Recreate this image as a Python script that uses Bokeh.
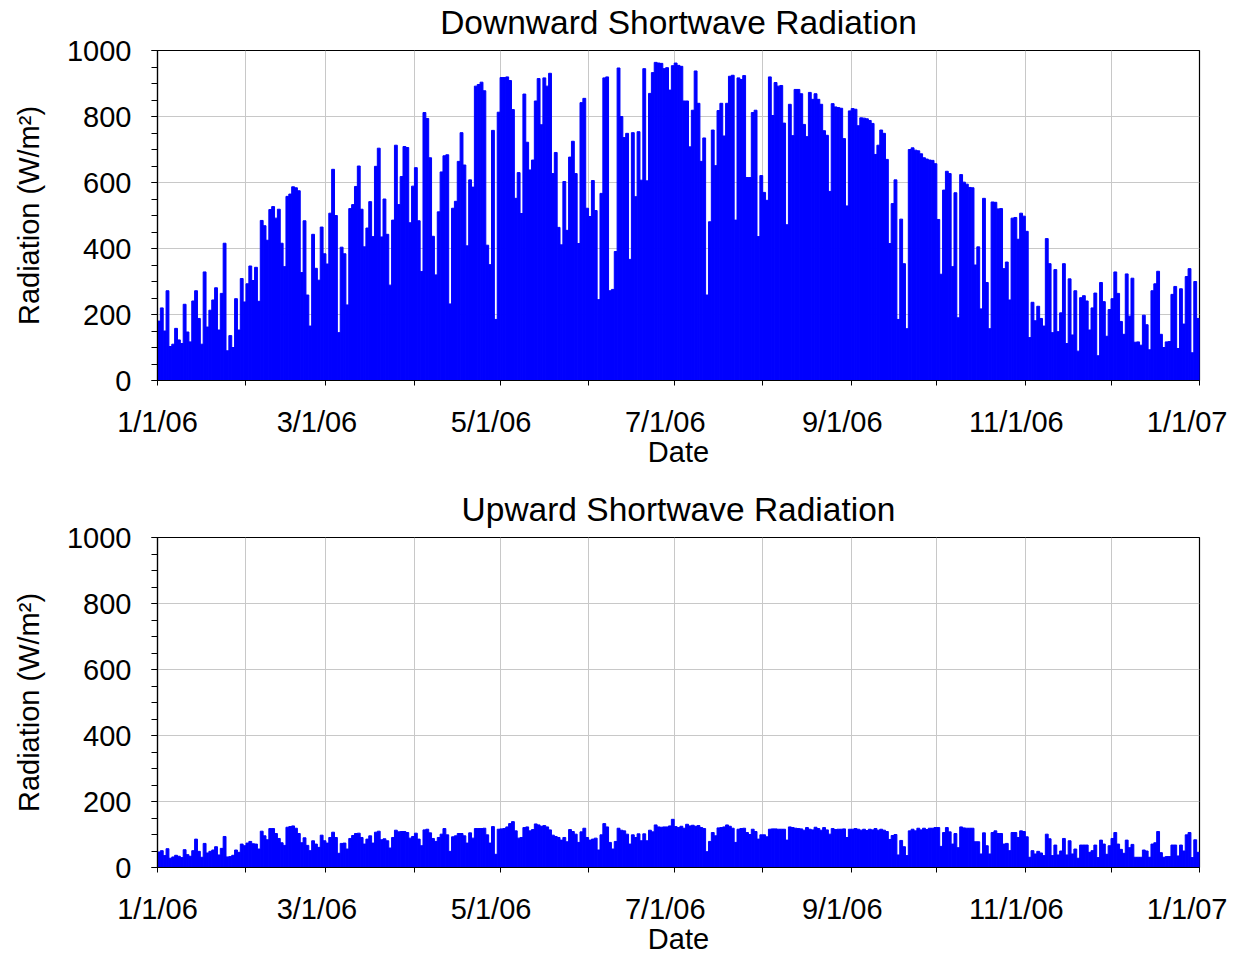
from bokeh.plotting import figure
from bokeh.layouts import column
from bokeh.models import FixedTicker, SingleIntervalTicker, Range1d, Title, LinearAxis
from bokeh.embed import file_html
from bokeh.resources import INLINE

# Daily peak downward shortwave radiation (W/m^2), 2006, day 0 = Jan 1
down_peak = [
    180, 220, 150, 272, 103, 110, 158, 123, 112, 231,
    147, 117, 241, 272, 188, 110, 329, 162, 213, 244,
    281, 153, 264, 416, 90, 136, 100, 248, 153, 309,
    238, 293, 347, 303, 343, 240, 485, 469, 425, 518,
    527, 492, 519, 416, 345, 558, 565, 587, 584, 575,
    327, 484, 259, 165, 443, 340, 304, 465, 384, 353,
    507, 640, 500, 145, 404, 384, 229, 521, 533, 588,
    650, 519, 405, 462, 542, 436, 649, 704, 435, 550,
    443, 289, 486, 713, 533, 618, 709, 706, 478, 589,
    645, 484, 330, 812, 794, 675, 437, 320, 511, 632,
    681, 684, 232, 522, 543, 664, 751, 653, 408, 608,
    586, 892, 897, 904, 878, 410, 351, 758, 185, 813,
    918, 918, 920, 909, 821, 552, 630, 506, 868, 722,
    638, 668, 847, 915, 775, 917, 892, 931, 627, 691,
    464, 411, 603, 455, 677, 725, 627, 415, 842, 855,
    522, 497, 606, 515, 245, 567, 917, 920, 272, 276,
    391, 947, 800, 736, 749, 367, 751, 557, 754, 607,
    945, 605, 870, 933, 964, 962, 961, 945, 948, 880,
    954, 962, 955, 952, 847, 847, 708, 819, 938, 840,
    664, 735, 259, 481, 759, 651, 818, 840, 741, 840,
    922, 925, 486, 917, 912, 924, 615, 615, 812, 819,
    436, 621, 570, 546, 920, 803, 903, 892, 894, 780,
    472, 837, 742, 882, 882, 869, 776, 739, 873, 852,
    869, 852, 837, 757, 743, 573, 839, 829, 827, 825,
    733, 529, 817, 824, 822, 772, 796, 795, 793, 788,
    779, 685, 713, 759, 749, 670, 415, 536, 608, 185,
    489, 354, 157, 700, 705, 698, 696, 687, 675, 671,
    668, 667, 657, 488, 322, 577, 634, 627, 345, 569,
    190, 624, 601, 595, 585, 584, 350, 405, 217, 552,
    297, 157, 541, 540, 520, 521, 339, 359, 244, 492,
    494, 428, 507, 498, 452, 130, 237, 181, 225, 188,
    165, 430, 354, 145, 336, 148, 205, 354, 112, 308,
    138, 272, 89, 251, 257, 241, 153, 220, 265, 75,
    297, 239, 134, 215, 248, 329, 264, 179, 140, 323,
    195, 310, 116, 117, 107, 198, 169, 93, 272, 293,
    331, 140, 100, 117, 118, 261, 285, 97, 278, 171,
    315, 339, 84, 300, 188,
]

# Daily peak upward shortwave radiation (W/m^2)
up_peak = [
    47, 51, 36, 57, 28, 32, 37, 34, 30, 54,
    39, 34, 51, 86, 49, 31, 73, 44, 49, 53,
    63, 38, 58, 94, 32, 33, 37, 53, 46, 71,
    66, 74, 79, 72, 71, 56, 110, 96, 84, 118,
    118, 103, 88, 75, 67, 122, 124, 126, 119, 103,
    75, 90, 67, 51, 81, 71, 61, 98, 81, 74,
    91, 107, 91, 43, 73, 74, 56, 88, 97, 103,
    104, 91, 71, 86, 96, 74, 107, 110, 84, 87,
    81, 59, 91, 113, 108, 109, 109, 106, 89, 94,
    104, 86, 66, 114, 116, 105, 88, 79, 91, 101,
    118, 99, 49, 93, 96, 103, 103, 96, 74, 105,
    89, 118, 118, 118, 119, 99, 74, 124, 40, 116,
    117, 118, 123, 133, 139, 111, 89, 91, 121, 123,
    111, 115, 132, 129, 125, 127, 123, 114, 98, 94,
    91, 83, 91, 78, 115, 109, 101, 76, 108, 119,
    91, 83, 86, 89, 53, 99, 133, 123, 76, 56,
    79, 119, 113, 111, 101, 71, 99, 91, 102, 81,
    102, 81, 113, 108, 129, 123, 122, 123, 123, 126,
    146, 124, 121, 125, 119, 131, 126, 128, 125, 127,
    121, 118, 48, 79, 106, 96, 120, 121, 123, 129,
    125, 119, 76, 116, 118, 119, 106, 100, 116, 109,
    86, 99, 99, 93, 116, 117, 117, 116, 116, 116,
    83, 123, 121, 119, 118, 117, 113, 121, 116, 114,
    122, 118, 113, 121, 114, 101, 118, 115, 116, 116,
    117, 91, 116, 116, 118, 116, 113, 116, 112, 116,
    114, 118, 113, 116, 113, 109, 85, 97, 100, 38,
    82, 63, 36, 111, 116, 111, 119, 114, 119, 115,
    119, 119, 121, 121, 64, 106, 121, 108, 71, 103,
    60, 123, 120, 119, 119, 119, 78, 78, 41, 105,
    66, 41, 106, 111, 103, 103, 71, 73, 51, 106,
    106, 91, 111, 109, 93, 31, 51, 41, 49, 44,
    36, 101, 87, 36, 68, 38, 50, 88, 38, 81,
    41, 56, 28, 68, 68, 68, 46, 51, 68, 30,
    83, 71, 40, 66, 88, 106, 71, 55, 43, 83,
    60, 70, 31, 31, 31, 53, 50, 31, 71, 75,
    109, 45, 31, 33, 33, 68, 68, 35, 68, 50,
    99, 106, 30, 84, 46,
]

month_starts = [0, 31, 59, 90, 120, 151, 181, 212, 243, 273, 304, 334, 365]
label_days = [0, 59, 120, 181, 243, 304, 365]
tick_labels = ["1/1/06", "3/1/06", "5/1/06", "7/1/06", "9/1/06", "11/1/06", "1/1/07"]
minor_days = [31, 90, 151, 212, 273, 334]

FONT = "Liberation Sans"
LABEL_SHIFT = 3.15  # labels sit slightly left of their ticks in the original


def make(title, vals, border_bottom):
    p = figure(
        frame_width=1042, frame_height=330,
        x_range=Range1d(0, 365), y_range=Range1d(0, 1000),
        output_backend="svg", toolbar_location=None, title_location=None,
        min_border_left=157, min_border_right=28,
        min_border_top=0, min_border_bottom=border_bottom,
    )
    days = list(range(len(vals)))
    xs = [d + 0.5 for d in days]
    p.vbar(x=xs, top=vals, width=1.0, bottom=0,
           fill_color="#0000ff", line_color="#0000ff", line_width=1.0)

    spacer = Title(text=" ", text_font_size="7px", standoff=0)
    p.add_layout(spacer, "above")
    t = Title(text=title, align="center", text_font=FONT, text_font_size="33.5px",
              text_font_style="normal", text_color="black", standoff=2)
    p.add_layout(t, "above")

    p.outline_line_color = "black"
    p.outline_line_width = 1.2
    p.outline_line_alpha = 1

    # main x axis: ticks only
    xa = p.xaxis[0]
    xa.ticker = FixedTicker(ticks=label_days, minor_ticks=minor_days)
    xa.major_label_text_font_size = "1px"
    xa.major_label_text_alpha = 0
    xa.major_label_standoff = 0

    # label axis: texts only (the first label cannot go left of the frame edge)
    lab_pos = [max(d - LABEL_SHIFT, 0) for d in label_days]
    xl = LinearAxis(
        ticker=FixedTicker(ticks=lab_pos),
        major_label_overrides={v: l for v, l in zip(lab_pos, tick_labels)},
        axis_line_color=None,
        major_tick_line_color=None, minor_tick_line_color=None,
        major_tick_out=0, major_tick_in=0, minor_tick_out=0, minor_tick_in=0,
        axis_label="Date",
    )
    p.add_layout(xl, "below")

    ya = p.yaxis[0]
    ya.ticker = SingleIntervalTicker(interval=200, num_minor_ticks=4)
    ya.axis_label = "Radiation (W/m²)"

    for ax in (xa, ya):
        ax.axis_line_color = "black"
        ax.axis_line_width = 1.2
        ax.major_tick_line_color = "black"
        ax.minor_tick_line_color = "black"
        ax.major_tick_in = 0
        ax.minor_tick_in = 0
    for ax in (xl, ya):
        ax.major_label_text_font = FONT
        ax.major_label_text_font_size = "29px"
        ax.major_label_text_color = "black"
        ax.axis_label_text_font = FONT
        ax.axis_label_text_font_size = "29px"
        ax.axis_label_text_font_style = "normal"
        ax.axis_label_text_color = "black"
    xa.major_tick_out = 5
    xa.minor_tick_out = 5
    xl.major_label_standoff = 20
    xl.axis_label_standoff = -5
    ya.major_tick_out = 6
    ya.minor_tick_out = 6
    ya.major_label_standoff = 20
    ya.axis_label_standoff = 19

    p.xgrid.ticker = FixedTicker(ticks=month_starts)
    p.ygrid.ticker = SingleIntervalTicker(interval=200)
    for g in (p.xgrid[0], p.ygrid[0]):
        g.grid_line_color = "#c8c8c8"
        g.grid_line_width = 1
    return p


p1 = make("Downward Shortwave Radiation", down_peak, 107)
p2 = make("Upward Shortwave Radiation", up_peak, 76)
layout = column(p1, p2, spacing=0)

open("out.html", "w").write(file_html(layout, INLINE))
